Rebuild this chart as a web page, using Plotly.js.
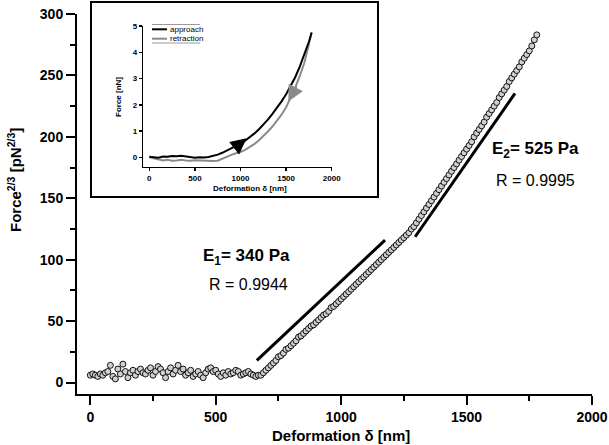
<!DOCTYPE html>
<html><head><meta charset="utf-8">
<script src="https://cdn.plot.ly/plotly-3.0.1.min.js"></script>
<style>html,body{margin:0;padding:0;background:#fff}#chart{width:609px;height:445px}</style>
</head><body><div id="chart"></div>
<script>
// Main data: deformation (nm) vs Force^(2/3) (pN^(2/3))
const defX = [0,10,20,30,40,50,60,70,80,90,100,110,120,130,140,150,160,170,180,190,200,210,220,230,240,250,260,270,280,290,300,310,320,330,340,350,360,370,380,390,400,410,420,430,440,450,460,470,480,490,500,510,520,530,540,550,560,570,580,590,600,610,620,630,640,650,660,670,680,690,700,710,720,730,740,750,760,770,780,790,800,810,820,830,840,850,860,870,880,890,900,910,920,930,940,950,960,970,980,990,1000,1010,1020,1030,1040,1050,1060,1070,1080,1090,1100,1110,1120,1130,1140,1150,1160,1170,1180,1190,1200,1210,1220,1230,1240,1250,1260,1270,1280,1290,1300,1310,1320,1330,1340,1350,1360,1370,1380,1390,1400,1410,1420,1430,1440,1450,1460,1470,1480,1490,1500,1510,1520,1530,1540,1550,1560,1570,1580,1590,1600,1610,1620,1630,1640,1650,1660,1670,1680,1690,1700,1710,1720,1730,1740,1750,1760,1770,1780];
const forceY = [6,7,6,5,7,6,8,9,14,5,3,11,7,15,9,4,8,10,6,9,11,8,7,10,12,6,9,13,11,8,4,9,12,7,10,14,9,11,6,8,10,5,7,9,6,4,8,11,12,9,10,7,5,8,6,9,7,8,10,9,6,7,8,9,7,6,5,6,6,8,10,12,14,16,18,21,22,24,27,28,30,32,34,37,38,40,42,44,46,47,49,51,53,55,56,58,61,62,64,66,68,70,72,74,76,78,80,82,84,86,88,90,92,94,96,98,100,102,104,106,108,110,112,114,116,118,120,122,125,127,130,133,136,139,142,145,148,151,154,157,160,163,166,169,172,175,178,181,184,187,190,193,196,200,203,206,209,212,216,219,222,225,228,232,235,238,241,245,248,251,254,257,261,264,267,270,274,279,283];
// Fit lines
const fit1X = [664, 1175], fit1Y = [18, 116];
const fit2X = [1295, 1693], fit2Y = [118.7, 235.4];
// Inset: force curves (nN)
const appX = [0,50,100,150,200,250,300,350,400,450,500,550,600,650,700,750,800,850,900,950,1000,1050,1100,1150,1200,1250,1300,1350,1400,1450,1500,1550,1600,1650,1700,1750,1780];
const appY = [0.02,0.0,-0.02,0.03,0.02,0.05,0.04,0.06,0.03,0.0,-0.02,0.0,-0.01,0.01,0.05,0.1,0.17,0.25,0.33,0.42,0.52,0.63,0.76,0.9,1.06,1.24,1.43,1.65,1.88,2.13,2.4,2.72,3.05,3.45,3.9,4.4,4.75];
const retX = [0,50,100,150,200,250,300,350,400,450,500,550,600,650,700,750,800,850,900,950,1000,1050,1100,1150,1200,1250,1300,1350,1400,1450,1500,1550,1600,1650,1700,1750,1780];
const retY = [0.0,-0.05,-0.1,-0.12,-0.1,-0.13,-0.12,-0.1,-0.12,-0.13,-0.11,-0.12,-0.13,-0.12,-0.14,-0.13,-0.05,0.03,0.09,0.15,0.2,0.28,0.38,0.5,0.64,0.8,0.98,1.17,1.38,1.62,1.9,2.25,2.65,3.1,3.6,4.3,4.75];
const xTicks = [0,500,1000,1500,2000];
const yTicks = [0,50,100,150,200,250,300];
const insetYTicks = [0,1,2,3,4,5];

const FONT = 'Liberation Sans, Arial, sans-serif';
const traces = [
  {x: defX, y: forceY, type:'scatter', mode:'markers', xaxis:'x', yaxis:'y',
   marker:{symbol:'circle', size:6, color:'#d0d0d0', line:{color:'#111', width:1}}},
  {x: fit1X, y: fit1Y, type:'scatter', mode:'lines', line:{color:'#000', width:3}},
  {x: fit2X, y: fit2Y, type:'scatter', mode:'lines', line:{color:'#000', width:3}},
  {x: retX, y: retY, type:'scatter', mode:'lines', xaxis:'x2', yaxis:'y2', line:{color:'#8a8a8a', width:2}},
  {x: appX, y: appY, type:'scatter', mode:'lines', xaxis:'x2', yaxis:'y2', line:{color:'#000', width:2}}
];
const L = 77, R = 592, T = 14, B = 394;
const px = v => (v - L) / (R - L);
const py = v => (B - v) / (B - T);
const ann = (x, y, text, size, bold, extra) => Object.assign({xref:'paper', yref:'paper', x:px(x), y:py(y), text:text,
  xanchor:'center', yanchor:'middle', showarrow:false, font:{family:FONT, size:size, color:'#000', weight: bold ? 'bold' : 'normal'}}, extra || {});
const layout = {
  width:609, height:445, showlegend:false,
  paper_bgcolor:'#fff', plot_bgcolor:'rgba(0,0,0,0)',
  margin:{l:L, r:609-R, t:T, b:445-B, pad:0},
  font:{family:FONT, color:'#000'},
  xaxis:{range:[-53,2000], domain:[0,1], anchor:'y', showgrid:false, zeroline:false,
    showline:true, linecolor:'#000', linewidth:2, ticks:'outside', ticklen:9, tickwidth:2, tickcolor:'#000',
    tickvals:xTicks, ticktext:xTicks.map(String), tickfont:{family:FONT, size:14, weight:'bold'},
    minor:{ticks:'outside', ticklen:5, tickwidth:2, tickcolor:'#000', dtick:250, tick0:0, showgrid:false}},
  yaxis:{range:[-9.3,300], domain:[0,1], anchor:'x', showgrid:false, zeroline:false,
    showline:true, linecolor:'#000', linewidth:2, ticks:'outside', ticklen:9, tickwidth:2, tickcolor:'#000',
    tickvals:yTicks, ticktext:yTicks.map(String), tickfont:{family:FONT, size:14, weight:'bold'},
    minor:{ticks:'outside', ticklen:5, tickwidth:2, tickcolor:'#000', dtick:25, tick0:0, showgrid:false}},
  xaxis2:{range:[-66,2000], domain:[px(143.3), px(331.7)], anchor:'y2', showgrid:false, zeroline:false,
    showline:true, linecolor:'#000', linewidth:1.5, ticks:'outside', ticklen:3, tickwidth:1.5, tickcolor:'#000',
    tickvals:xTicks, ticktext:xTicks.map(String), tickfont:{family:FONT, size:8, weight:'bold'}},
  yaxis2:{range:[-0.36,5], domain:[py(166.7), py(26)], anchor:'x2', showgrid:false, zeroline:false,
    showline:true, linecolor:'#000', linewidth:1.5, ticks:'outside', ticklen:3, tickwidth:1.5, tickcolor:'#000',
    tickvals:insetYTicks, ticktext:insetYTicks.map(String), tickfont:{family:FONT, size:8, weight:'bold'}},
  shapes:[
    {type:'rect', xref:'paper', yref:'paper', x0:px(91), x1:px(378), y0:py(197), y1:py(2),
     line:{color:'#000', width:2}, fillcolor:'#fff', layer:'below'},
    {type:'line', xref:'paper', yref:'paper', x0:px(152), x1:px(200), y0:py(24.5), y1:py(24.5), line:{color:'#999', width:1}},
    {type:'line', xref:'paper', yref:'paper', x0:px(152), x1:px(200), y0:py(43), y1:py(43), line:{color:'#999', width:1}},
    {type:'line', xref:'paper', yref:'paper', x0:px(152), x1:px(167), y0:py(29.3), y1:py(29.3), line:{color:'#000', width:2}},
    {type:'line', xref:'paper', yref:'paper', x0:px(152), x1:px(167), y0:py(38.7), y1:py(38.7), line:{color:'#8a8a8a', width:2}}
  ],
  annotations:[
    ann(14, 180, 'Force<sup>2/3</sup> [pN<sup>2/3</sup>]', 15, true, {textangle:-90}),
    ann(341, 436, 'Deformation δ [nm]', 15, true),
    ann(246, 257, 'E<sub>1</sub>= 340 Pa', 17, true),
    ann(248, 284, 'R = 0.9944', 16, false),
    ann(535, 150, 'E<sub>2</sub>= 525 Pa', 17, true),
    ann(535, 180, 'R = 0.9995', 16, false),
    ann(118, 97, 'Force [nN]', 8, true, {textangle:-90}),
    ann(250, 188, 'Deformation δ [nm]', 8, true),
    ann(168, 29.3, 'approach', 8, false, {xanchor:'left'}),
    ann(168, 38.7, 'retraction', 8, false, {xanchor:'left'}),
    {xref:'x2', yref:'y2', x:1068, y:0.72, ax:-14, ay:11, text:'', showarrow:true,
     arrowhead:2, arrowsize:1.6, arrowwidth:2, arrowcolor:'#000'},
    {xref:'x2', yref:'y2', x:1524, y:2.12, ax:9, ay:-17, text:'', showarrow:true,
     arrowhead:2, arrowsize:1.6, arrowwidth:2, arrowcolor:'#8a8a8a'}
  ]
};
Plotly.newPlot('chart', traces, layout, {staticPlot:true, displayModeBar:false});
</script></body></html>
